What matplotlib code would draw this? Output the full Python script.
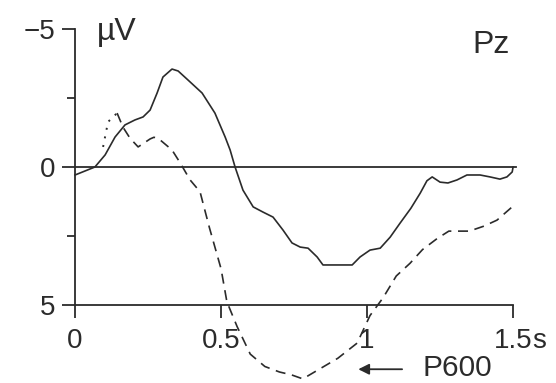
import matplotlib
matplotlib.use('Agg')
import matplotlib.pyplot as plt
import numpy as np

plt.rcParams.update({
    'font.family': ['Liberation Sans', 'DejaVu Sans'],
    'font.size': 20,
})

INK = '#2b2b2b'

# ERP at Pz, negative up (µV), time in seconds
t_solid = [0.0, 0.068, 0.103, 0.137, 0.171, 0.205, 0.233, 0.257, 0.281, 0.301,
           0.332, 0.353, 0.387, 0.435, 0.479, 0.514, 0.531, 0.548, 0.575, 0.610,
           0.644, 0.678, 0.712, 0.743, 0.771, 0.798, 0.829, 0.849, 0.897, 0.949,
           0.976, 1.010, 1.045, 1.079, 1.113, 1.15, 1.182, 1.205, 1.223, 1.25,
           1.277, 1.308, 1.342, 1.387, 1.421, 1.455, 1.479, 1.497, 1.50]
v_solid = [0.29, 0.0, -0.44, -1.09, -1.53, -1.71, -1.82, -2.07, -2.69, -3.27,
           -3.56, -3.49, -3.16, -2.69, -1.96, -1.09, -0.62, 0.0, 0.84, 1.45,
           1.64, 1.82, 2.29, 2.76, 2.91, 2.95, 3.27, 3.56, 3.56, 3.56,
           3.27, 3.02, 2.95, 2.55, 2.04, 1.5, 0.95, 0.5, 0.36, 0.55,
           0.58, 0.47, 0.29, 0.29, 0.36, 0.44, 0.36, 0.18, 0.0]

t_dash = [0.096, 0.113, 0.144, 0.164, 0.188, 0.216, 0.257, 0.27, 0.284, 0.332,
          0.36, 0.394, 0.428, 0.46, 0.50, 0.52, 0.555, 0.60, 0.65, 0.70,
          0.74, 0.78, 0.82, 0.86, 0.90, 0.966, 1.01, 1.055, 1.10, 1.147,
          1.19, 1.24, 1.28, 1.35, 1.40, 1.445, 1.50]
v_dash = [-0.73, -1.64, -1.96, -1.45, -1.05, -0.73, -1.02, -1.08, -1.05, -0.62,
          -0.15, 0.47, 0.9, 2.2, 3.7, 4.9, 5.8, 6.8, 7.25, 7.45,
          7.55, 7.7, 7.45, 7.2, 6.95, 6.4, 5.4, 4.75, 3.96, 3.5,
          3.0, 2.6, 2.33, 2.33, 2.15, 1.93, 1.42]
dotted_until = 0.144

x_ticks = [0, 0.5, 1, 1.5]
x_labels = ['0', '0.5', '1', '1.5']
y_ticks = [-5, 0, 5]
y_labels = ['\u22125', '0', '5']
y_minor = [-2.5, 2.5]

fig = plt.figure(figsize=(5.56, 3.83), dpi=100)
ax = fig.add_axes([0, 0, 1, 1])
ax.set_xlim(-0.257, 1.647)
ax.set_ylim(7.85, -6.07)

t_d = np.array(t_dash)
v_d = np.array(v_dash)
early = t_d <= dotted_until
late = t_d >= dotted_until

# baseline, then the two conditions
ax.plot([0, 1.51], [0, 0], color=INK, lw=1.3)
ax.plot(t_solid, v_solid, color=INK, lw=1.2)
ax.plot(t_d[early], v_d[early], color=INK, lw=1.4, ls=(0, (1, 3.5)))
ax.plot(t_d[late], v_d[late], color=INK, lw=1.2, ls=(0, (6, 4)), clip_on=False)

for s in ['top', 'right']:
    ax.spines[s].set_visible(False)
ax.spines['left'].set_position(('data', 0))
ax.spines['bottom'].set_position(('data', 5))
ax.spines['left'].set_bounds(-5, 5)
ax.spines['bottom'].set_bounds(0, 1.5)
for s in ['left', 'bottom']:
    ax.spines[s].set_color(INK)
    ax.spines[s].set_linewidth(1.3)

ax.set_xticks(x_ticks)
ax.set_xticklabels(x_labels)
ax.set_yticks(y_ticks)
ax.set_yticklabels(y_labels)
ax.set_yticks(y_minor, minor=True)
ax.tick_params(axis='x', which='major', direction='out', length=9,
               width=1.3, color=INK, labelcolor=INK, pad=8)
ax.tick_params(axis='y', which='major', direction='out', length=9.5,
               width=1.3, color=INK, labelcolor=INK, pad=5)
ax.tick_params(axis='y', which='minor', direction='out', length=6,
               width=1.3, color=INK)
ax.set_facecolor('white')

# unit after the last time label
ax.annotate('s', xy=(1.5, 5), xytext=(14, -17), textcoords='offset points',
            ha='left', va='top', color=INK)

ax.text(0.075, -4.9, '\u00b5V', ha='left', va='center', color=INK, fontsize=23)
ax.text(1.36, -4.42, 'Pz', ha='left', va='center', color=INK, fontsize=23)

ax.annotate('', xy=(0.97, 7.35), xytext=(1.12, 7.35),
            arrowprops=dict(arrowstyle='-|>', color=INK, lw=1.3,
                            mutation_scale=16, shrinkA=0, shrinkB=0))
ax.text(1.19, 7.3, 'P600', ha='left', va='center', color=INK, fontsize=21.5)

fig.savefig('out.png', dpi=100, facecolor='white')
